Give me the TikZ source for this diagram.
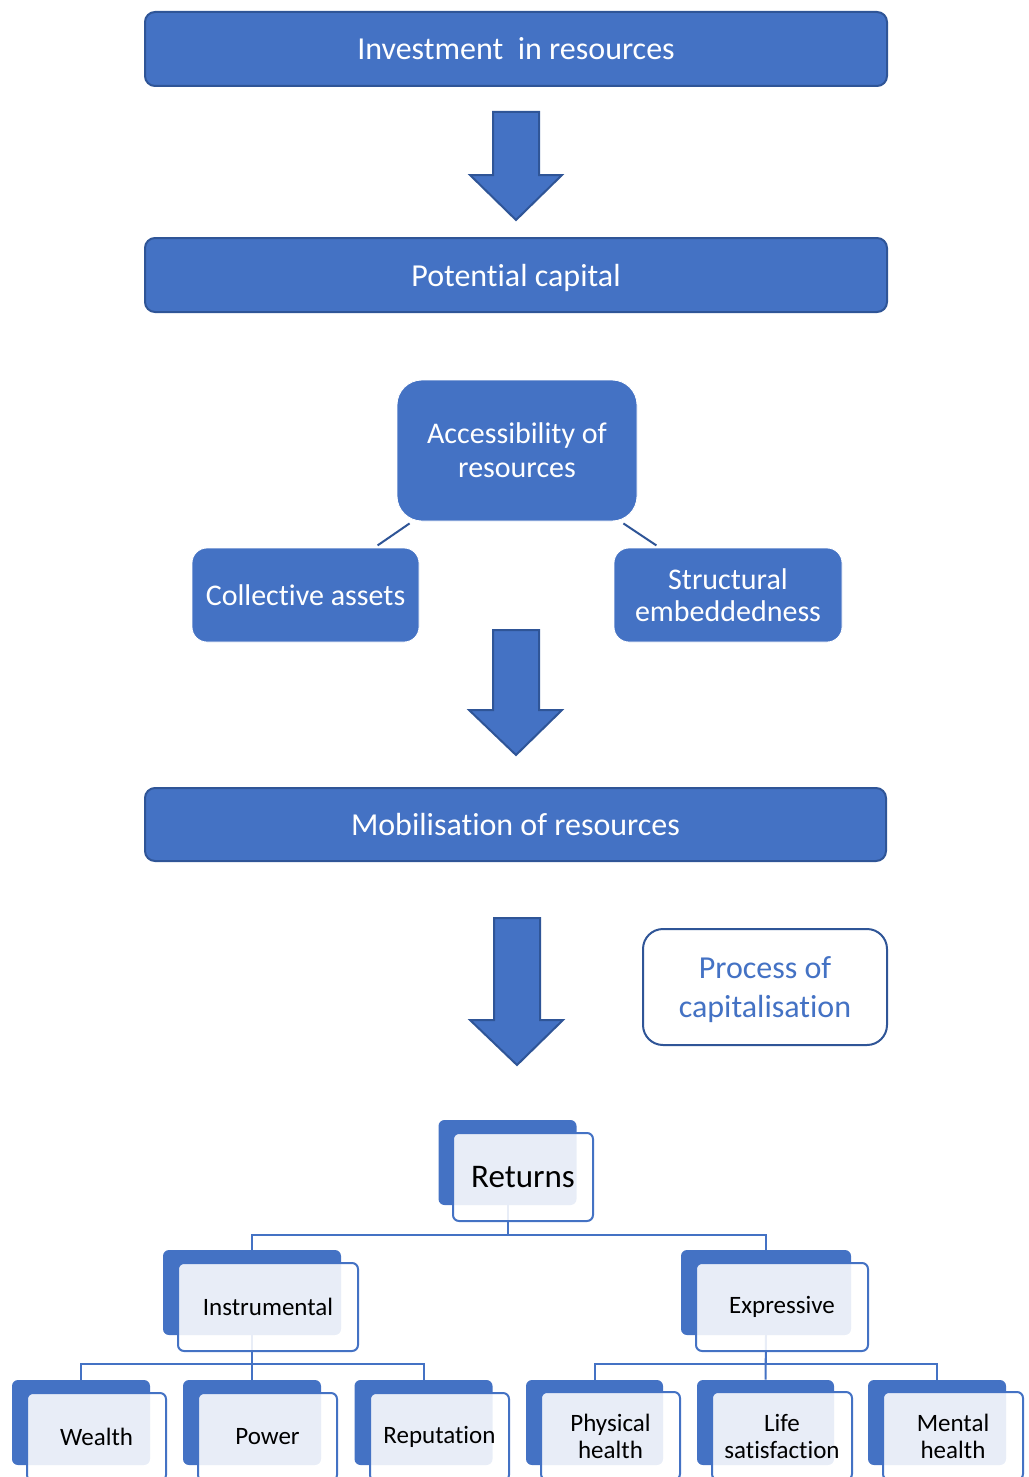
\documentclass[tikz,border=0pt]{standalone}
\usepackage{fontspec}
\setmainfont{Carlito}[Ligatures=NoCommon]
\definecolor{blu}{HTML}{4472C4}
\definecolor{dblu}{HTML}{2F5597}
\begin{document}
\begin{tikzpicture}[x=0.5pt,y=-0.5pt,
  bar/.style={draw=dblu, line width=1pt, fill=blu, rounded corners=5pt, text=white,
    font=\fontsize{16}{19}\selectfont, minimum width=371pt, minimum height=37pt, inner sep=0pt,
    text height=12.5pt, text depth=1.5pt},
  tile/.style={draw=white, line width=0.4pt, fill=blu, text=white,
    font=\fontsize{15}{16}\selectfont, align=center, inner sep=0pt},
  downarrow/.style={draw=dblu, line width=1pt, fill=blu, line join=miter},
  back/.style={fill=blu, rounded corners=3pt, inner sep=0pt, minimum height=42.5pt},
  front/.style={draw=blu, line width=1pt, fill=white, fill opacity=0.88, text opacity=1,
    rounded corners=3pt, inner sep=0pt, minimum height=44pt, align=center,
    font=\fontsize{12.5}{13.5}\selectfont},
  link/.style={draw=blu, line width=1pt}
]
\useasboundingbox (0,0) rectangle (1028,1477);
\clip (0,0) rectangle (1028,1477);

% main stages
\node[bar] (inv) at (516,49) {Investment~ in resources};
\node[bar] (pot) at (516,275) {Potential capital};
\node[bar, minimum width=370.5pt, minimum height=36.5pt] (mob) at (515.5,824.5) {Mobilisation of resources};

% block arrows between stages
\draw[downarrow] (493,112) -- (539,112) -- (539,175) -- (562,175) -- (516,220) -- (470,175) -- (493,175) -- cycle;
\draw[downarrow] (493,630) -- (539,630) -- (539,710) -- (562,710) -- (516,755) -- (469,710) -- (493,710) -- cycle;
\draw[downarrow] (494,918) -- (540,918) -- (540,1020) -- (563,1020) -- (517,1065) -- (470,1020) -- (494,1020) -- cycle;

% accessibility and its two sources
\node[tile, rounded corners=12.5pt, minimum width=120pt, minimum height=70.5pt,
  font=\fontsize{15}{17}\selectfont] (acc) at (517,450.5) {Accessibility of\\resources};
\node[tile, rounded corners=7.5pt, minimum width=113.5pt, minimum height=47pt] (col) at (305.5,595) {Collective assets};
\node[tile, rounded corners=7.5pt, minimum width=114pt, minimum height=47pt] (str) at (728,595) {Structural\\embeddedness};
\draw[draw=dblu, line width=1pt] (acc.south west) ++(13,2) -- ++(-32,22);
\draw[draw=dblu, line width=1pt] (acc.south east) ++(-14,2) -- ++(33,22);

% side note
\node[draw=dblu, line width=1pt, fill=white, rounded corners=10pt,
  minimum width=122pt, minimum height=58pt, inner sep=0pt,
  label={[text=blu, align=center, font=\fontsize{16}{19.5}\selectfont, yshift=-1.5pt]center:Process of\\capitalisation}]
  (proc) at (765,987) {};

% returns hierarchy: solid back cards
\node[back, minimum width=69pt] (ret) at (507.5,1162.5) {};
\node[back, minimum width=89pt] (ins) at (252,1292.5) {};
\node[back, minimum width=85pt] (exp) at (766,1292.5) {};
\node[back, minimum width=69pt] (wea) at (81,1422.5) {};
\node[back, minimum width=69pt] (pow) at (252,1422.5) {};
\node[back, minimum width=69pt] (rep) at (423.5,1422.5) {};
\node[back, minimum width=68.5pt] (phy) at (594.5,1422.5) {};
\node[back, minimum width=68.5pt] (lif) at (765.5,1422.5) {};
\node[back, minimum width=69pt] (men) at (937,1422.5) {};

% tree links
\draw[link] (ret.south) -- ++(0,30) -| (ins.north);
\draw[link] (ret.south) -- ++(0,30) -| (exp.north);
\draw[link] (ins.south) -- ++(0,29) -| (wea.north);
\draw[link] (ins.south) -- (pow.north);
\draw[link] (ins.south) -- ++(0,29) -| (rep.north);
\draw[link] (exp.south) -- ++(0,29) -| (phy.north);
\draw[link] (exp.south) -- (lif.north);
\draw[link] (exp.south) -- ++(0,29) -| (men.north);

% translucent front cards with labels
\node[front, minimum width=70pt, font=\fontsize{16.5}{18}\selectfont] (retf) at (523,1177) {Returns};
\node[front, minimum width=90pt] (insf) at (268,1307) {Instrumental};
\node[front, minimum width=86pt] (expf) at (782,1307) {Expressive};
\node[front, minimum width=69.5pt] (weaf) at (96.5,1437) {Wealth};
\node[front, minimum width=69.5pt] (powf) at (267.5,1437) {Power};
\node[front, minimum width=69.5pt] (repf) at (439.5,1437) {Reputation};
\node[front, minimum width=69.5pt] (phyf) at (610.5,1436) {Physical\\health};
\node[front, minimum width=70pt] (liff) at (782,1436) {Life\\satisfaction};
\node[front, minimum width=70pt] (menf) at (953,1436) {Mental\\health};
\end{tikzpicture}
\end{document}
